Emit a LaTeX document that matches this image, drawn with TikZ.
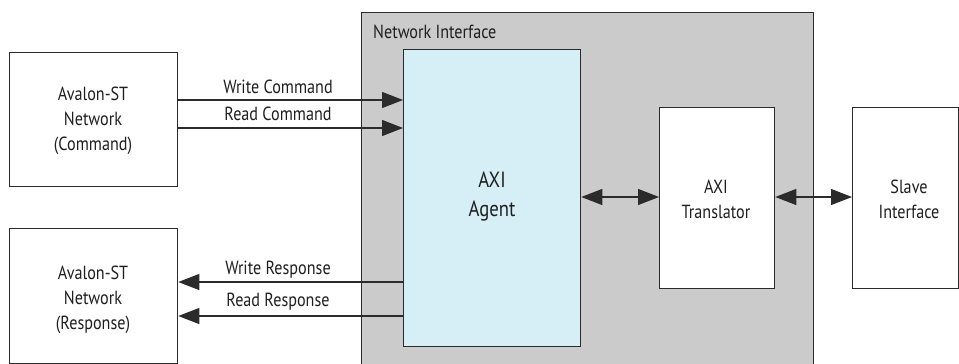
\documentclass[tikz,border=0pt]{standalone}
\usepackage{fontspec}
\setmainfont[FakeStretch=0.85]{PT Sans}
\usetikzlibrary{arrows.meta}
\definecolor{niGray}{HTML}{CBCBCB}
\definecolor{agentBlue}{HTML}{D6EEF5}
\definecolor{lineDark}{HTML}{2B2B2B}
\tikzset{
  box/.style={draw=lineDark, line width=1.3pt, inner sep=0pt, align=center},
  lbl/.style={font=\fontsize{19}{25}\selectfont, align=center, inner sep=0pt, text=black!88},
  big/.style={font=\fontsize{22}{29}\selectfont, align=center, inner sep=0pt, text=black!88},
  conn/.style={draw=lineDark, line width=1.2pt, -{Triangle[length=21pt,width=16pt]}},
  bconn/.style={draw=lineDark, line width=1.2pt, {Triangle[length=21pt,width=16pt]}-{Triangle[length=21pt,width=16pt]}},
}
\begin{document}
\begin{tikzpicture}[x=1pt, y=-1pt]
\useasboundingbox (0,0) rectangle (959,364);
% Network Interface container
\node[box, fill=niGray, minimum width=452pt, minimum height=366pt, anchor=north west] (ni) at (361,12) {};
\node[lbl, anchor=west] (nilbl) at (373,32) {Network Interface};
% AXI Agent
\node[box, fill=agentBlue, minimum width=177pt, minimum height=297pt, anchor=north west] (agent) at (403,49) {};
\node[big] (agenttxt) at (492,197) {AXI\\Agent};
% AXI Translator
\node[box, fill=white, minimum width=115pt, minimum height=181pt, anchor=north west] (trans) at (659,107) {};
\node[lbl] (transtxt) at (716,199) {AXI\\Translator};
% Slave Interface
\node[box, fill=white, minimum width=106pt, minimum height=181pt, anchor=north west] (slave) at (852,107) {};
\node[lbl] (slavetxt) at (909,199) {Slave\\Interface};
% Avalon command
\node[box, fill=white, minimum width=168pt, minimum height=134pt, anchor=north west] (cmd) at (9,52) {};
\node[lbl] (cmdtxt) at (93,121) {Avalon-ST\\Network\\(Command)};
% Avalon response
\node[box, fill=white, minimum width=168pt, minimum height=135pt, anchor=north west] (rsp) at (9,228) {};
\node[lbl] (rsptxt) at (93,300) {Avalon-ST\\Network\\(Response)};
% command arrows
\coordinate (wc0) at (cmd.east |- 0,100);
\coordinate (rc0) at (cmd.east |- 0,128);
\draw[conn] (wc0) -- (wc0 -| agent.west);
\draw[conn] (rc0) -- (rc0 -| agent.west);
\node[lbl] (wcl) at (278,87) {Write Command};
\node[lbl] (rcl) at (278,114) {Read Command};
% response arrows
\coordinate (wr0) at (agent.west |- 0,282);
\coordinate (rr0) at (agent.west |- 0,316);
\draw[conn] (wr0) -- (wr0 -| rsp.east);
\draw[conn] (rr0) -- (rr0 -| rsp.east);
\node[lbl] (wrl) at (278,270) {Write Response};
\node[lbl] (rrl) at (278,302) {Read Response};
% bidirectional
\coordinate (b1) at (agent.east |- 0,197);
\draw[bconn] (b1) -- (b1 -| trans.west);
\coordinate (b2) at (trans.east |- 0,197);
\draw[bconn] (b2) -- (b2 -| slave.west);
\end{tikzpicture}
\end{document}
